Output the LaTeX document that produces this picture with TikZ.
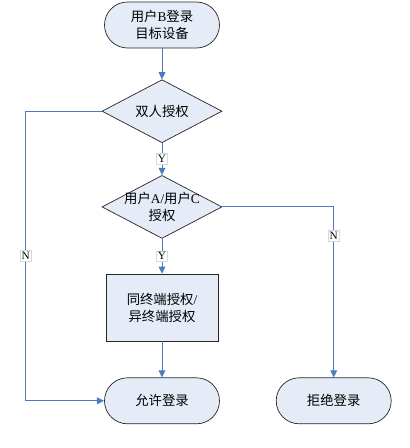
\documentclass[tikz,border=0pt]{standalone}
\usepackage{fontspec}
\setmainfont{Liberation Serif}
\newfontfamily\cjk{Noto Sans CJK SC}
\usetikzlibrary{shapes.geometric, arrows.meta}
\usetikzlibrary{positioning}
\definecolor{boxfill}{HTML}{E6ECF7}
\definecolor{flowblue}{HTML}{4A7CC4}

\begin{document}
\begin{tikzpicture}[
                font=\fontsize{9.5}{12}\selectfont\cjk,
                module/.style={draw=black!85, fill=boxfill, align=center, line width=0.5pt},
                terminal/.style={module, rounded corners=0.575cm, minimum width=2.875cm, minimum height=1.15cm},
                decision/.style={module, diamond, aspect=1.9, inner sep=-2pt, minimum width=3cm, minimum height=1.575cm},
                process/.style={module, minimum width=2.8cm, minimum height=1.675cm},
                arrow/.style={-{Triangle[length=1.8mm, width=1.7mm]}, flowblue, line width=0.7pt},
                tag/.style={fill=white, draw=black!15, inner sep=1pt, font=\fontsize{8}{9}\selectfont\rmfamily, text=black},
            ]
            \useasboundingbox (0,0) rectangle (10.25,-11.2);

            \node[terminal] (login) at (4.05,-0.625) {用户{\rmfamily B}登录\\目标设备};
            \node[below=0.775cm of login, decision] (dual_auth) {双人授权};
            \node[below=0.8cm of dual_auth, decision] (ac_auth) {用户{\rmfamily A/}用户{\rmfamily C}\\授权};
            \node[below=0.875cm of ac_auth, process] (term_auth) {同终端授权{\rmfamily /}\\异终端授权};
            \node[below=0.9cm of term_auth, terminal] (allow) {允许登录};
            \node[right=1.4cm of allow, terminal] (deny) {拒绝登录};

            \draw[arrow] (login) -- (dual_auth);
            \draw[arrow] (dual_auth) -- node[tag] {Y} (ac_auth);
            \draw[arrow] (ac_auth) -- node[tag] {Y} (term_auth);
            \draw[arrow] (term_auth) -- (allow);
            \draw[arrow] (dual_auth.west) -- ++(-1.9cm,0) |- node[tag, pos=0.25] {N} (allow.west);
            \draw[arrow] (ac_auth.east) -| node[tag, pos=0.585] {N} (deny.north);
        \end{tikzpicture}
\end{document}
